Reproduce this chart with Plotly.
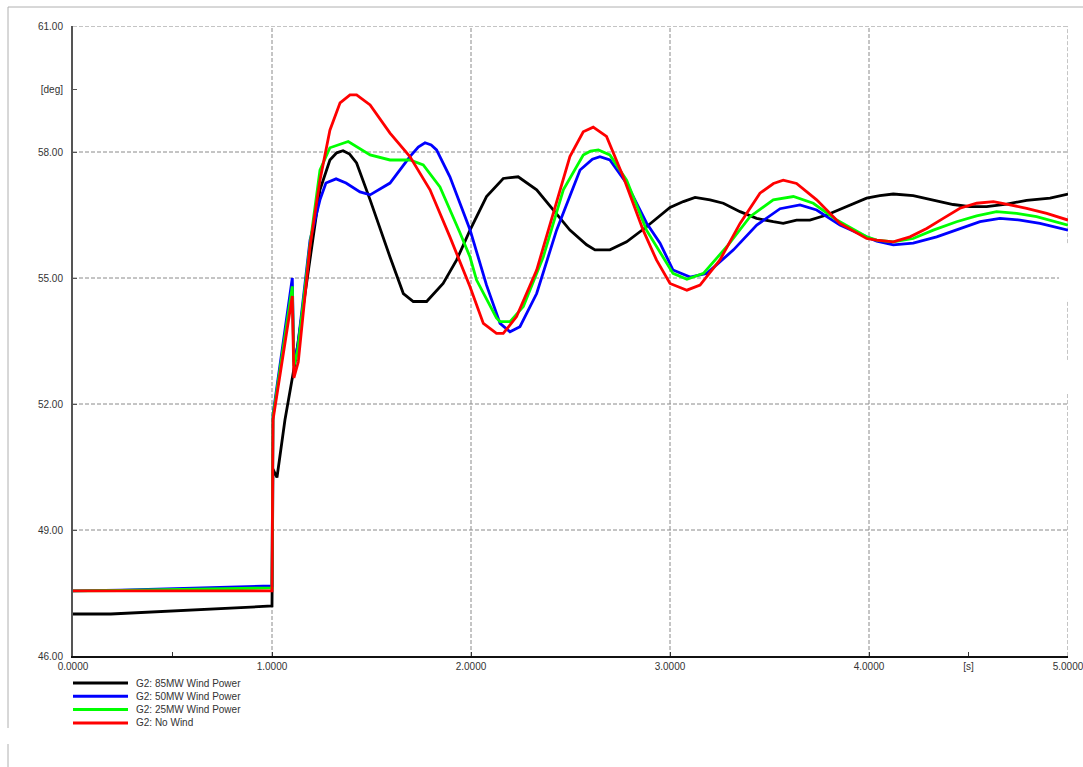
import plotly.graph_objects as go

# ---------------- data ----------------
series_names = ["G2: 85MW Wind Power", "G2: 50MW Wind Power",
                "G2: 25MW Wind Power", "G2: No Wind"]
series_colors = ["#000000", "#0000ff", "#00ff00", "#ff0000"]

t_85 = [0.0, 0.19, 1.0, 1.005, 1.025, 1.065, 1.12, 1.191, 1.241, 1.291, 1.325, 1.357,
        1.39, 1.425, 1.493, 1.593, 1.66, 1.71, 1.777, 1.86, 1.928, 1.995, 2.078,
        2.162, 2.237, 2.33, 2.413, 2.497, 2.581, 2.623, 2.698, 2.782, 2.882,
        3.0, 3.067, 3.126, 3.201, 3.268, 3.352, 3.435, 3.519, 3.569, 3.636,
        3.703, 3.787, 3.887, 3.988, 4.054, 4.122, 4.222, 4.323, 4.423, 4.507,
        4.591, 4.692, 4.792, 4.91, 5.0]
v_85 = [47.00, 47.00, 47.19, 50.45, 50.25, 51.62, 53.10, 55.43, 57.10, 57.81, 57.98, 58.03,
        57.95, 57.74, 56.86, 55.50, 54.63, 54.44, 54.44, 54.87, 55.43, 56.14, 56.94,
        57.37, 57.41, 57.10, 56.62, 56.14, 55.79, 55.67, 55.67, 55.86, 56.22,
        56.68, 56.82, 56.92, 56.86, 56.78, 56.58, 56.42, 56.34, 56.30, 56.38,
        56.38, 56.50, 56.70, 56.90, 56.96, 57.00, 56.96, 56.85, 56.75, 56.70,
        56.70, 56.76, 56.85, 56.90, 57.00]

t_50 = [0.0, 0.24, 1.0, 1.005, 1.102, 1.11, 1.13, 1.191, 1.241, 1.271, 1.322,
        1.372, 1.442, 1.493, 1.593, 1.693, 1.735, 1.769, 1.8, 1.827, 1.894, 1.995, 2.078,
        2.146, 2.196, 2.246, 2.33, 2.43, 2.548, 2.61, 2.648, 2.698, 2.782, 2.882,
        2.95, 3.015, 3.101, 3.185, 3.319, 3.436, 3.553, 3.653, 3.737, 3.854,
        3.988, 4.039, 4.122, 4.222, 4.34, 4.457, 4.558, 4.658, 4.759, 4.859, 5.0]
v_50 = [47.55, 47.57, 47.67, 51.75, 55.00, 53.00, 53.40, 55.90, 56.86, 57.26, 57.36,
        57.26, 57.05, 56.98, 57.26, 57.89, 58.12, 58.22, 58.17, 58.05, 57.41, 56.15, 54.83,
        53.92, 53.72, 53.84, 54.63, 56.14, 57.57, 57.83, 57.89, 57.81, 57.25, 56.31,
        55.83, 55.19, 55.02, 55.11, 55.67, 56.26, 56.65, 56.74, 56.62, 56.26,
        55.98, 55.88, 55.79, 55.83, 55.98, 56.18, 56.34, 56.42, 56.38, 56.30, 56.14]

t_25 = [0.0, 0.24, 1.0, 1.005, 1.102, 1.11, 1.13, 1.191, 1.241, 1.291, 1.383,
        1.493, 1.593, 1.693, 1.76, 1.844, 1.945, 1.995, 2.028, 2.128, 2.146,
        2.196, 2.263, 2.363, 2.464, 2.564, 2.6, 2.64, 2.698, 2.782, 2.882, 2.966,
        3.015, 3.085, 3.168, 3.286, 3.402, 3.519, 3.62, 3.72, 3.838, 3.988,
        4.039, 4.122, 4.222, 4.323, 4.44, 4.541, 4.641, 4.742, 4.842, 5.0]
v_25 = [47.55, 47.56, 47.62, 51.70, 54.80, 52.90, 53.30, 55.80, 57.57, 58.10, 58.25,
        57.93, 57.81, 57.81, 57.69, 57.17, 56.07, 55.50, 54.95, 54.05, 53.96,
        53.96, 54.32, 55.50, 57.10, 57.93, 58.02, 58.05, 57.93, 57.33, 56.14, 55.50,
        55.11, 54.97, 55.11, 55.75, 56.46, 56.86, 56.94, 56.78, 56.38, 55.98,
        55.90, 55.86, 55.94, 56.14, 56.34, 56.48, 56.58, 56.54, 56.46, 56.26]

t_0 = [0.0, 1.0, 1.005, 1.102, 1.11, 1.132, 1.191, 1.241, 1.291, 1.342, 1.392,
       1.425, 1.493, 1.593, 1.693, 1.794, 1.894, 1.995, 2.062, 2.128, 2.162,
       2.229, 2.33, 2.413, 2.497, 2.564, 2.614, 2.681, 2.765, 2.865, 2.932,
       3.0, 3.085, 3.151, 3.251, 3.352, 3.452, 3.52, 3.569, 3.636, 3.737, 3.854,
       3.988, 4.039, 4.122, 4.206, 4.29, 4.373, 4.457, 4.541, 4.625, 4.709,
       4.792, 4.893, 5.0]
v_0 = [47.55, 47.55, 51.62, 54.57, 52.62, 53.00, 55.75, 57.33, 58.52, 59.17, 59.36,
       59.36, 59.12, 58.45, 57.89, 57.10, 55.98, 54.79, 53.92, 53.68, 53.68,
       54.08, 55.19, 56.54, 57.89, 58.48, 58.59, 58.37, 57.41, 56.14, 55.43,
       54.87, 54.71, 54.83, 55.43, 56.30, 57.02, 57.25, 57.33, 57.25, 56.86, 56.30,
       55.94, 55.90, 55.86, 55.98, 56.18, 56.42, 56.66, 56.78, 56.82, 56.74,
       56.66, 56.54, 56.38]

series_t = [t_85, t_50, t_25, t_0]
series_v = [v_85, v_50, v_25, v_0]

y_ticks = [46, 49, 52, 55, 58, 59.5, 61]
y_ticktext = ["46.00", "49.00", "52.00", "55.00", "58.00", "[deg]", "61.00"]
x_ticks = [0, 0.5, 1, 2, 3, 4, 4.5, 5]
x_ticktext = ["0.0000", "", "1.0000", "2.0000", "3.0000", "4.0000", "[s]", "5.0000"]
y_grid = [49, 52, 55, 58, 61]
x_grid = [1, 2, 3, 4]

# ---------------- figure ----------------
W, H = 1083, 767
L, R, T, B = 73, 15, 26, 111
pw, ph = W - L - R, H - T - B

fig = go.Figure()
for name, col, tt, vv in zip(series_names, series_colors, series_t, series_v):
    fig.add_trace(go.Scatter(x=tt, y=vv, mode="lines", name=name,
                             line=dict(color=col, width=2.8, shape="linear"),
                             showlegend=False))

grid_style = dict(color="#8a8a8a", width=1, dash="4px,2px")
shapes = []
for g in y_grid:
    x_end = 4.955 if g == 55 else 5
    shapes.append(dict(type="line", xref="x", yref="y", x0=0, x1=x_end, y0=g, y1=g,
                       line=grid_style, layer="below"))
for g in x_grid:
    shapes.append(dict(type="line", xref="x", yref="y", x0=g, x1=g, y0=46, y1=61,
                       line=grid_style, layer="below"))
for (a, b) in [(55.83, 61), (53.05, 54.48), (46, 52.26)]:
    shapes.append(dict(type="line", xref="x", yref="y", x0=5, x1=5, y0=a, y1=b,
                       line=grid_style, layer="below"))

def px_x(px):
    return (px - L) / pw

def px_y(py):
    return (H - B - py) / ph

# outer frame
frame = dict(color="#b0b0b0", width=1)
shapes.append(dict(type="line", xref="paper", yref="paper", x0=px_x(8), x1=px_x(1083),
                   y0=px_y(7), y1=px_y(7), line=frame))
shapes.append(dict(type="line", xref="paper", yref="paper", x0=px_x(8), x1=px_x(8),
                   y0=px_y(7), y1=px_y(728), line=frame))
shapes.append(dict(type="line", xref="paper", yref="paper", x0=px_x(8), x1=px_x(8),
                   y0=px_y(744), y1=px_y(767), line=frame))

# legend (manual, to match compact spacing)
annotations = []
for i, (name, col) in enumerate(zip(series_names, series_colors)):
    yy = 683 + 13.3 * i
    shapes.append(dict(type="line", xref="paper", yref="paper", x0=px_x(73), x1=px_x(128),
                       y0=px_y(yy), y1=px_y(yy), line=dict(color=col, width=3)))
    annotations.append(dict(xref="paper", yref="paper", x=px_x(134), y=px_y(yy), text=name,
                            showarrow=False, xanchor="left", yanchor="middle",
                            font=dict(family="Liberation Sans, Arial", size=10, color="#333333")))

fig.update_layout(
    width=W, height=H, autosize=False,
    margin=dict(l=L, r=R, t=T, b=B, pad=0, autoexpand=False),
    paper_bgcolor="white", plot_bgcolor="white",
    shapes=shapes, annotations=annotations,
    font=dict(family="Liberation Sans, Arial", size=10, color="#333333"),
    xaxis=dict(range=[0, 5], tickvals=x_ticks, ticktext=x_ticktext, showgrid=False,
               zeroline=False, showline=True, linecolor="#111111", linewidth=2,
               ticks="inside", ticklen=4, tickcolor="#333333", tickwidth=1,
               ticklabeloverflow="allow", automargin=False,
               tickfont=dict(size=10, color="#333333")),
    yaxis=dict(range=[46, 61], tickvals=y_ticks, ticktext=y_ticktext, showgrid=False,
               zeroline=False, showline=True, linecolor="#555555", linewidth=2,
               ticks="inside", ticklen=4, tickcolor="#555555", tickwidth=1,
               ticklabelstandoff=6, ticklabeloverflow="allow", automargin=False,
               tickfont=dict(size=10, color="#333333")),
)

fig.write_html("out.html")
